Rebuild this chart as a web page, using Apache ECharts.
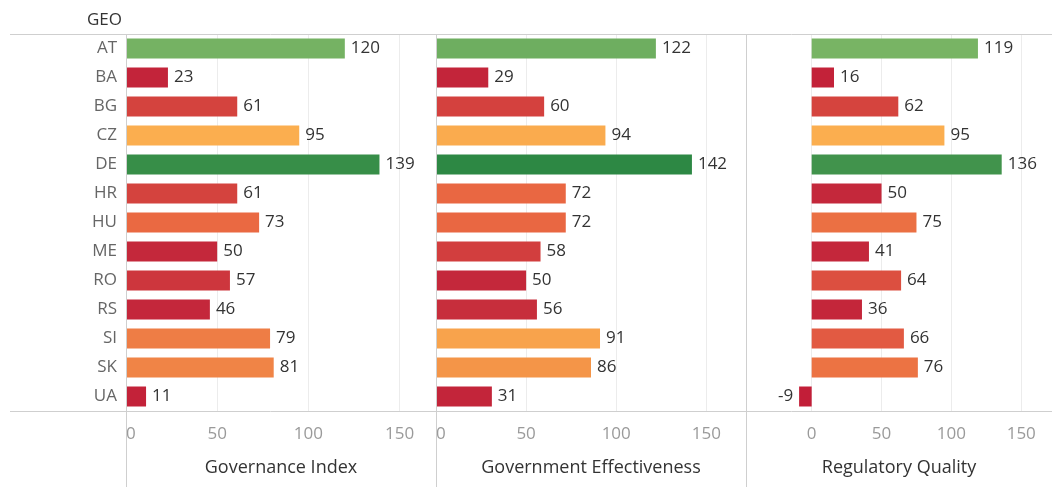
<!DOCTYPE html>
<html>
<head>
<meta charset="utf-8">
<script src="https://cdn.jsdelivr.net/npm/echarts@6/dist/echarts.min.js"></script>
<style>
  html, body { margin: 0; padding: 0; background: #fff; }
  #chart { width: 1052px; height: 487px; }
</style>
</head>
<body>
<div id="chart"></div>
<script>
// Country codes (rows, top to bottom)
const countries = ['AT', 'BA', 'BG', 'CZ', 'DE', 'HR', 'HU', 'ME', 'RO', 'RS', 'SI', 'SK', 'UA'];

// Index values per measure
const governanceIndex        = [120, 23, 61, 95, 139, 61, 73, 50, 57, 46, 79, 81, 11];
const governmentEffectiveness = [122, 29, 60, 94, 142, 72, 72, 58, 50, 56, 91, 86, 31];
const regulatoryQuality      = [119, 16, 62, 95, 136, 50, 75, 41, 64, 36, 66, 76, -9];

const measureNames = ['Governance Index', 'Government Effectiveness', 'Regulatory Quality'];

// Diverging red -> orange -> green colour ramp keyed on the value
const ramp = [
  [-10, [194, 30, 56]], [50, [196, 40, 59]], [56, [199, 46, 60]], [58, [210, 62, 62]],
  [62, [213, 68, 62]], [66, [226, 90, 66]], [73, [234, 105, 66]], [80, [239, 128, 69]],
  [86, [244, 149, 72]], [95, [251, 174, 79]], [119, [120, 180, 100]], [142, [45, 136, 68]]
];
function shade(v) {
  if (v <= ramp[0][0]) return 'rgb(' + ramp[0][1].join(',') + ')';
  for (let i = 1; i < ramp.length; i++) {
    if (v <= ramp[i][0]) {
      const [a, ca] = ramp[i - 1], [b, cb] = ramp[i];
      const t = (v - a) / (b - a);
      return 'rgb(' + ca.map((c, k) => Math.round(c + (cb[k] - c) * t)).join(',') + ')';
    }
  }
  return 'rgb(' + ramp[ramp.length - 1][1].join(',') + ')';
}

const FONT = '"Open Sans", "Noto Sans", sans-serif';
const TOP = 34, BOTTOM = 76, H = 487, W = 1052;
const panels = [
  { left: 126, width: 310, min: 0, max: 170 },
  { left: 436, width: 310, min: 0, max: 172 },
  { left: 746, width: 306, min: -47, max: 172 }
];
const series = [governanceIndex, governmentEffectiveness, regulatoryQuality];

const chart = echarts.init(document.getElementById('chart'), null, { renderer: 'canvas' });

const grids = panels.map(p => ({ left: p.left, width: p.width, top: TOP, bottom: BOTTOM, containLabel: false }));

const xAxes = panels.map((p, i) => {
  const ax = {
    type: 'value', gridIndex: i, min: p.min, max: p.max,
    name: measureNames[i], nameLocation: 'middle', nameGap: 48,
    nameTextStyle: { fontFamily: FONT, fontSize: 18, color: '#333' },
    axisLine: { show: false }, axisTick: { show: false },
    axisLabel: {
      fontFamily: FONT, fontSize: 17, color: '#9a9a9a', margin: 15,
      showMaxLabel: false
    },
    splitLine: { show: true, lineStyle: { color: '#ececec', width: 1 } }
  };
  if (p.min === 0) {
    ax.interval = 50;
    ax.axisLabel.alignMinLabel = 'left';
  } else {
    ax.splitNumber = 4; ax.minInterval = 50; ax.maxInterval = 50;
    ax.axisLabel.showMinLabel = false;
  }
  return ax;
});

const yAxes = panels.map((p, i) => ({
  type: 'category', gridIndex: i, data: countries, inverse: true,
  axisLine: { show: false }, axisTick: { show: false },
  splitLine: { show: false },
  axisLabel: {
    show: i === 0, fontFamily: FONT, fontSize: 17, color: '#666', margin: 9
  }
}));

const barSeries = series.map((vals, i) => ({
  type: 'bar', xAxisIndex: i, yAxisIndex: i, barWidth: 20,
  data: vals.map(v => ({
    value: v,
    itemStyle: { color: shade(v) },
    label: { position: v < 0 ? 'left' : 'right' }
  })),
  label: {
    show: true, distance: 6, fontFamily: FONT, fontSize: 17, color: '#333',
    formatter: '{c}'
  },
  emphasis: { disabled: true },
  animation: false
}));

// Frame rules: header/footer rows and panel dividers
const ruleColor = '#cfcfcf';
const graphics = [
  { type: 'line', shape: { x1: 10, y1: TOP + 0.5, x2: W, y2: TOP + 0.5 }, style: { stroke: ruleColor, lineWidth: 1 }, silent: true, z: 10 },
  { type: 'line', shape: { x1: 10, y1: H - BOTTOM + 0.5, x2: W, y2: H - BOTTOM + 0.5 }, style: { stroke: ruleColor, lineWidth: 1 }, silent: true, z: 10 }
];
panels.forEach(p => {
  graphics.push({ type: 'line', shape: { x1: p.left + 0.5, y1: TOP, x2: p.left + 0.5, y2: H }, style: { stroke: ruleColor, lineWidth: 1 }, silent: true, z: 10 });
});

chart.setOption({
  animation: false,
  backgroundColor: '#fff',
  title: {
    text: 'GEO', left: 82, top: 7,
    textStyle: { fontFamily: FONT, fontSize: 17, fontWeight: 'normal', color: '#333' }
  },
  grid: grids,
  xAxis: xAxes,
  yAxis: yAxes,
  series: barSeries,
  graphic: graphics
});
</script>
</body>
</html>
